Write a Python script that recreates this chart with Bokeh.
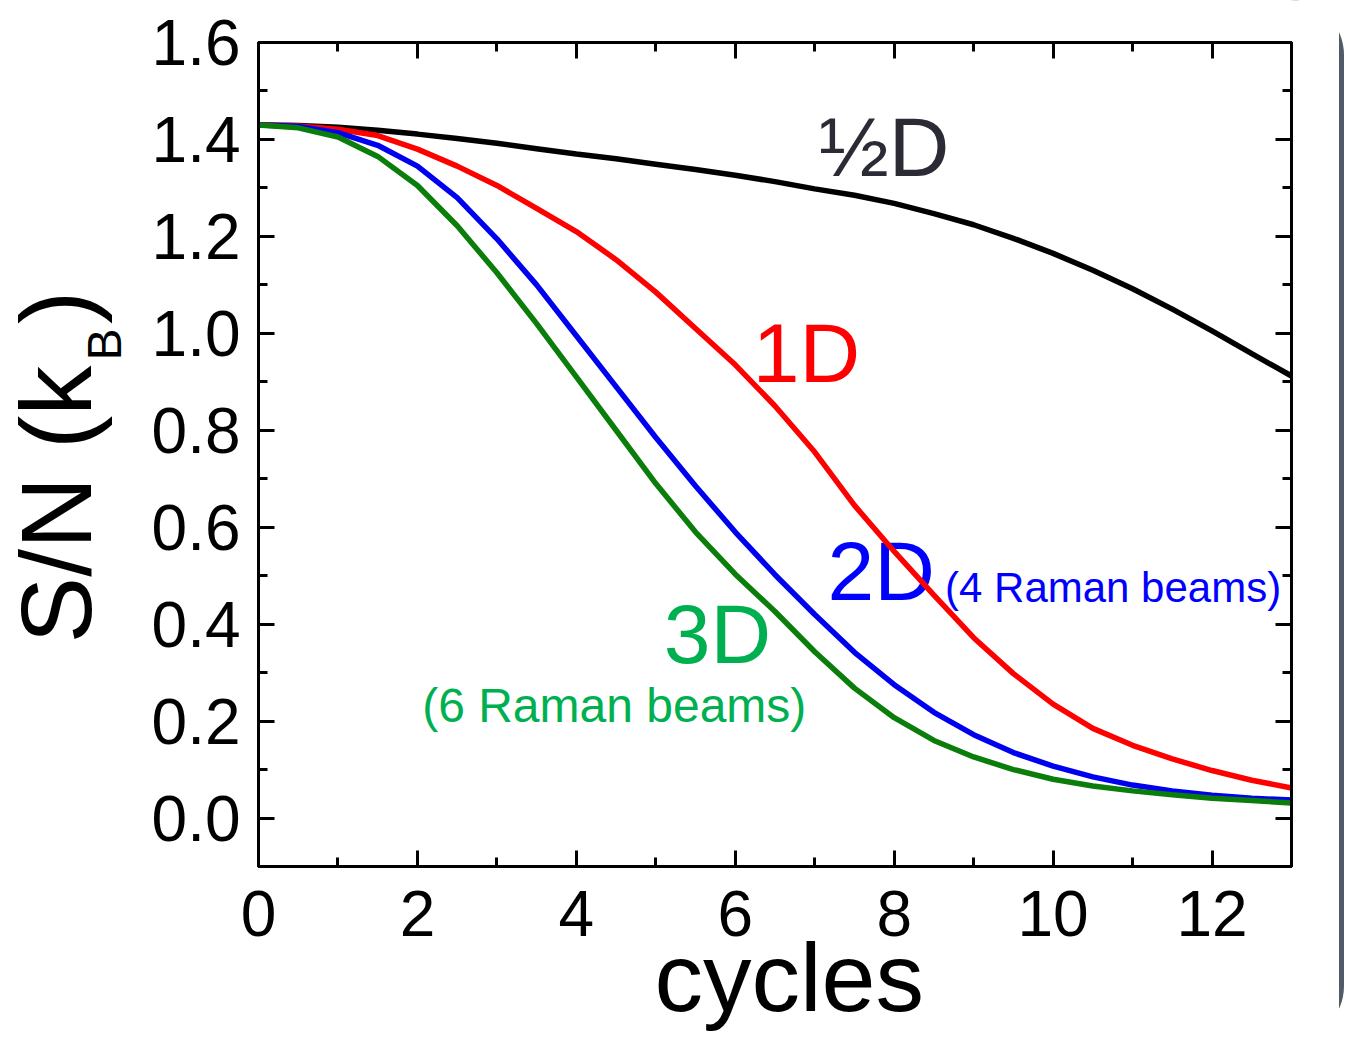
from bokeh.plotting import figure
from bokeh.models import (Label, FixedTicker, NumeralTickFormatter, LinearAxis,
                          Range1d, Title)
from bokeh.embed import file_html
from bokeh.resources import INLINE

# ---- data ----
cycles = [0, 0.5, 1, 1.5, 2, 2.5, 3, 3.5, 4, 4.5, 5, 5.5, 6, 6.5, 7, 7.5, 8,
          8.5, 9, 9.5, 10, 10.5, 11, 11.5, 12, 12.5, 13]
s_half_d = [1.430, 1.429, 1.425, 1.419, 1.411, 1.402, 1.392, 1.381, 1.370, 1.360,
            1.349, 1.338, 1.326, 1.313, 1.298, 1.285, 1.268, 1.247, 1.224, 1.196,
            1.165, 1.130, 1.092, 1.050, 1.005, 0.958, 0.912]
s_1d = [1.430, 1.428, 1.421, 1.408, 1.380, 1.345, 1.305, 1.258, 1.210, 1.152,
        1.085, 1.010, 0.935, 0.850, 0.755, 0.645, 0.550, 0.460, 0.372, 0.298,
        0.235, 0.185, 0.150, 0.122, 0.098, 0.078, 0.062]
s_2d = [1.430, 1.427, 1.414, 1.388, 1.345, 1.280, 1.195, 1.100, 0.995, 0.890,
        0.785, 0.685, 0.590, 0.502, 0.420, 0.342, 0.275, 0.218, 0.172, 0.135,
        0.107, 0.085, 0.068, 0.056, 0.047, 0.041, 0.037]
s_3d = [1.430, 1.424, 1.405, 1.365, 1.305, 1.222, 1.125, 1.020, 0.910, 0.800,
        0.690, 0.590, 0.503, 0.426, 0.343, 0.268, 0.207, 0.160, 0.126, 0.100,
        0.080, 0.066, 0.056, 0.048, 0.041, 0.036, 0.031]

x_major = [0, 2, 4, 6, 8, 10, 12]
x_minor = [1, 3, 5, 7, 9, 11, 13]
y_major = [0.0, 0.2, 0.4, 0.6, 0.8, 1.0, 1.2, 1.4, 1.6]
y_minor = [0.1, 0.3, 0.5, 0.7, 0.9, 1.1, 1.3, 1.5]

FONT = "Liberation Sans"

p = figure(width=1344, height=1041, output_backend="svg", toolbar_location=None,
           x_range=Range1d(0, 13), y_range=Range1d(-0.1, 1.6),
           min_border_left=258, min_border_right=53, min_border_top=42,
           min_border_bottom=175)
p.xgrid.visible = False
p.ygrid.visible = False
p.background_fill_color = "white"
p.border_fill_color = "white"
p.outline_line_color = "black"
p.outline_line_width = 3
p.styles = {"border-right": "5px solid #4f5b67",
            "border-top-right-radius": "55px",
            "border-bottom-right-radius": "55px"}

def style_axis(ax):
    ax.axis_line_width = 3
    ax.axis_line_color = "black"
    ax.major_tick_in = 16
    ax.major_tick_out = 0
    ax.minor_tick_in = 9
    ax.minor_tick_out = 0
    ax.major_tick_line_width = 3
    ax.minor_tick_line_width = 3
    ax.major_label_text_font = FONT
    ax.major_label_text_font_size = "64px"
    ax.major_label_text_color = "black"

p.xaxis.ticker = FixedTicker(ticks=x_major, minor_ticks=x_minor)
p.yaxis.ticker = FixedTicker(ticks=y_major, minor_ticks=y_minor)
p.yaxis.formatter = NumeralTickFormatter(format="0.0")
style_axis(p.xaxis[0])
style_axis(p.yaxis[0])
p.xaxis.major_label_standoff = 24
p.yaxis.major_label_standoff = 18

# mirror ticks on top and right (no labels): long ticks at the major
# positions and short ticks at the minor positions
def mirror(ticks_long, ticks_short, side):
    for tks, length in ((ticks_long, 16), (ticks_short, 9)):
        ax = LinearAxis(ticker=FixedTicker(ticks=[], minor_ticks=tks))
        ax.axis_line_width = 3
        ax.axis_line_color = "black"
        ax.major_tick_in = 0
        ax.major_tick_out = 0
        ax.minor_tick_in = length
        ax.minor_tick_out = 0
        ax.minor_tick_line_width = 3
        ax.major_label_standoff = 0
        p.add_layout(ax, side)

mirror(x_major, x_minor, "above")
mirror(y_major, y_minor, "right")

lw = 5.5
p.line(cycles, s_half_d, line_color="black", line_width=lw)
p.line(cycles, s_1d, line_color="#ff0000", line_width=lw)
p.line(cycles, s_2d, line_color="#0000f0", line_width=lw)
p.line(cycles, s_3d, line_color="#0a7d0a", line_width=lw)

YPX = 485.5  # pixels per unit on y (for text baseline shift only)

def lab(text, x, y, size, color):
    l = Label(x=x, y=y + 0.345 * size / YPX, text=text, text_font=FONT,
              text_font_size=f"{size}px", text_color=color, text_align="left",
              text_baseline="alphabetic", level="underlay")
    p.add_layout(l)
    return l

# curve labels
lab("\u00bdD", 7.05, 1.324, 84, "#2b2b36")
lab("1D", 6.22, 0.900, 84, "#ff0000")
lab("2D", 7.16, 0.449, 84, "#0000ff")
lab("(4 Raman beams)", 8.64, 0.445, 42, "#0000ff")
lab("3D", 5.10, 0.319, 84, "#00b050")
lab("(6 Raman beams)", 2.06, 0.198, 48, "#00b050")

# axis titles (side-panel titles so that they are not clipped)
t_b = Title(text="B", align="left", offset=506, standoff=36,
            vertical_align="bottom", text_font=FONT, text_font_size="48px",
            text_font_style="normal", text_color="black")
t_sn = Title(text="S/N (k\u2004\u200a)", align="left", offset=223, standoff=-109,
             vertical_align="bottom", text_font=FONT, text_font_size="100px",
             text_font_style="normal", text_color="black")
p.add_layout(t_b, "left")
p.add_layout(t_sn, "left")

t_cyc = Title(text="cycles", align="left", offset=396, standoff=-36,
              vertical_align="bottom", text_font=FONT, text_font_size="97px",
              text_font_style="normal", text_color="black")
p.add_layout(t_cyc, "below")

open("out.html", "w").write(file_html(p, INLINE))
